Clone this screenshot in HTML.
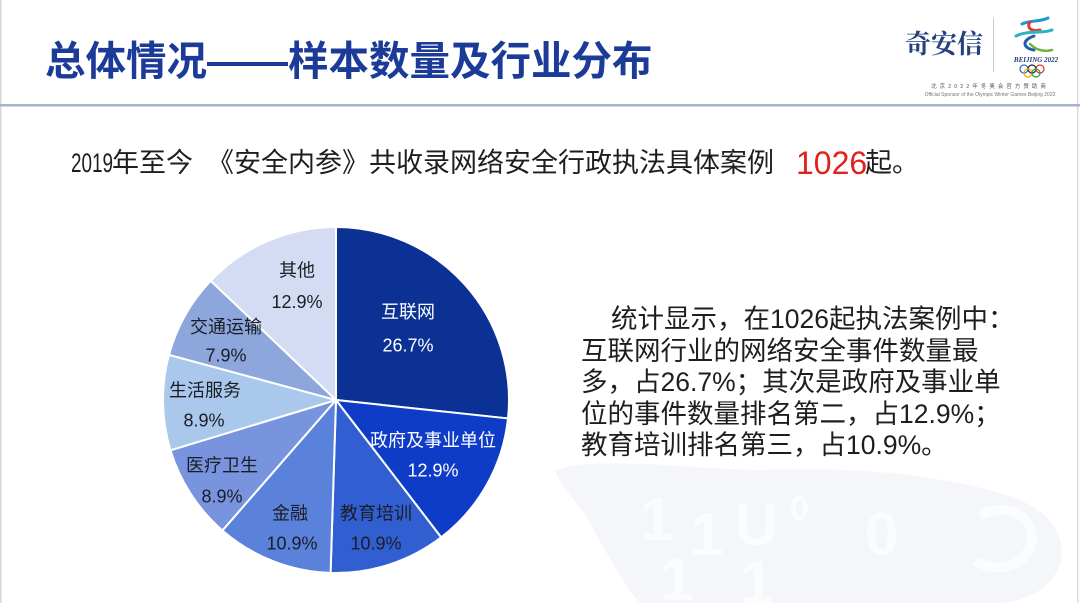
<!DOCTYPE html>
<html>
<head>
<meta charset="utf-8">
<style>
  html,body{margin:0;padding:0;}
  body{width:1080px;height:603px;position:relative;overflow:hidden;background:#ffffff;
       font-family:"Liberation Sans","Noto Sans CJK SC",sans-serif;color:#1e1e1e;}
  .abs{position:absolute;white-space:nowrap;line-height:1;}
  .title{left:45px;top:41px;font-size:40.5px;font-weight:700;color:#1c3b98;letter-spacing:0px;}
  .sub{font-size:27px;color:#1e1e1e;top:150px;}
  .para{font-size:26.5px;color:#1e1e1e;left:581px;}
</style>
</head>
<body>
<!-- watermark / background -->
<svg class="abs" style="left:0;top:0" width="1080" height="603" viewBox="0 0 1080 603">
  <path d="M555,470 C600,455 700,470 760,470 C820,468 880,470 930,478 C990,488 1050,500 1060,540 C1068,575 1040,600 1000,603 L640,603 C620,580 600,540 585,515 C575,498 560,488 555,470 Z" fill="#f4f6fa"/>
  <path d="M980,515 C1010,500 1040,520 1030,548 C1020,570 990,572 975,560" fill="none" stroke="#fbfcfe" stroke-width="10"/>
  <g font-family="Liberation Sans, sans-serif" font-weight="700" fill="#fbfcfe" font-size="60">
    <text x="640" y="540">1</text><text x="690" y="555">1</text><text x="735" y="545">U</text>
    <text x="790" y="520" font-size="34">0</text><text x="865" y="555">0</text>
    <text x="660" y="600">1</text><text x="740" y="603">1</text>
  </g>
  <!-- borders -->
  <rect x="0" y="0" width="1.5" height="603" fill="#d6d6d6"/>
  <rect x="1077" y="0" width="1.5" height="603" fill="#dcdcdc"/>
  <!-- header line -->
  <rect x="0" y="104" width="1080" height="2.5" fill="#a7b2d1"/>
  <!-- logo separator -->
  <rect x="993" y="18" width="1" height="54" fill="#c9ccd4"/>
  <!-- beijing emblem -->
  <g fill="none" stroke-linecap="round">
    <path d="M1022,24 C1030,20 1040,22 1048,18" stroke="#1b9ad6" stroke-width="3"/>
    <path d="M1030,22 C1026,28 1032,32 1040,30" stroke="#e03c31" stroke-width="3"/>
    <path d="M1016,36 C1028,30 1042,34 1052,30" stroke="#2bb3c0" stroke-width="3"/>
    <path d="M1034,36 C1022,40 1022,48 1034,50" stroke="#1f5fae" stroke-width="3"/>
    <path d="M1030,44 C1036,50 1044,52 1052,50" stroke="#6ab23e" stroke-width="2.5"/>
  </g>
  <text x="1036" y="62" font-family="Liberation Serif, serif" font-style="italic" font-size="7" fill="#233a7a" text-anchor="middle" font-weight="700">BEIJING 2022</text>
  <g fill="none" stroke-width="1.2">
    <circle cx="1024" cy="69" r="4" stroke="#2a6cc7"/>
    <circle cx="1032" cy="69" r="4" stroke="#222"/>
    <circle cx="1040" cy="69" r="4" stroke="#d33"/>
    <circle cx="1028" cy="73" r="4" stroke="#e8b200"/>
    <circle cx="1036" cy="73" r="4" stroke="#2a9a46"/>
  </g>
  <text x="990" y="88" font-family="Liberation Sans, Noto Sans CJK SC, sans-serif" font-size="5.5" fill="#555" text-anchor="middle" letter-spacing="3">北京2022年冬奥会官方赞助商</text>
  <text x="990" y="96" font-family="Liberation Sans, sans-serif" font-size="5" fill="#777" text-anchor="middle">Official Sponsor of the Olympic Winter Games Beijing 2022</text>
</svg>

<div class="abs title">总体情况——样本数量及行业分布</div>

<div class="abs" style="left:905px;top:32px;font-size:26px;font-family:'Liberation Serif','Noto Serif CJK SC',serif;color:#25407f;font-weight:700;">奇安信</div>

<!-- subtitle -->
<div class="abs sub" style="left:71px;transform:scaleX(0.7);transform-origin:0 0;">2019</div>
<div class="abs sub" style="left:112px;">年至今</div>
<div class="abs sub" style="left:207px;">《安全内参》共收录网络安全行政执法具体案例</div>
<div class="abs" style="left:796px;top:147px;font-size:32px;color:#e3211b;">1026</div>
<div class="abs sub" style="left:865px;">起。</div>

<!-- paragraph -->
<div class="abs para" style="top:306px;left:611px;">统计显示，在1026起执法案例中：</div>
<div class="abs para" style="top:337.6px;">互联网行业的网络安全事件数量最</div>
<div class="abs para" style="top:369.2px;">多，占26.7%；其次是政府及事业单</div>
<div class="abs para" style="top:400.8px;">位的事件数量排名第二，占12.9%；</div>
<div class="abs para" style="top:432.4px;">教育培训排名第三，占10.9%。</div>

<!-- pie -->
<svg class="abs" style="left:0;top:0" width="1080" height="603" viewBox="0 0 1080 603">
  <g stroke="#ffffff" stroke-width="2" stroke-linejoin="round">
    <path d="M336,400 L336,227 A173,173 0 0,1 508.01,418.44 Z" fill="#0b3195"/>
    <path d="M336,400 L508.01,418.44 A173,173 0 0,1 441.19,537.35 Z" fill="#0e3cc6"/>
    <path d="M336,400 L441.19,537.35 A173,173 0 0,1 330.57,572.92 Z" fill="#315fd1"/>
    <path d="M336,400 L330.57,572.92 A173,173 0 0,1 222.40,530.48 Z" fill="#5a82db"/>
    <path d="M336,400 L222.40,530.48 A173,173 0 0,1 170.49,450.34 Z" fill="#7894de"/>
    <path d="M336,400 L170.49,450.34 A173,173 0 0,1 168.99,354.87 Z" fill="#aac8eb"/>
    <path d="M336,400 L168.99,354.87 A173,173 0 0,1 210.67,280.75 Z" fill="#8da6db"/>
    <path d="M336,400 L210.67,280.75 A173,173 0 0,1 336,227 Z" fill="#d3dcf2"/>
  </g>
  <g font-family="Liberation Sans, Noto Sans CJK SC, sans-serif" font-size="18" text-anchor="middle">
    <g fill="#ffffff">
      <text x="408" y="318">互联网</text>
      <text x="408" y="351.5">26.7%</text>
      <text x="433" y="446.5">政府及事业单位</text>
      <text x="433" y="476.5">12.9%</text>
    </g>
    <g fill="#1b1d26">
      <text x="297" y="276.5">其他</text>
      <text x="297" y="308">12.9%</text>
      <text x="226" y="333">交通运输</text>
      <text x="226" y="361.5">7.9%</text>
      <text x="205" y="396.5">生活服务</text>
      <text x="204" y="426.5">8.9%</text>
      <text x="222" y="471.5">医疗卫生</text>
      <text x="222" y="502.5">8.9%</text>
      <text x="290" y="519.5">金融</text>
      <text x="292" y="549.5">10.9%</text>
      <text x="376" y="519.5">教育培训</text>
      <text x="376" y="549.5">10.9%</text>
    </g>
  </g>
</svg>
</body>
</html>
